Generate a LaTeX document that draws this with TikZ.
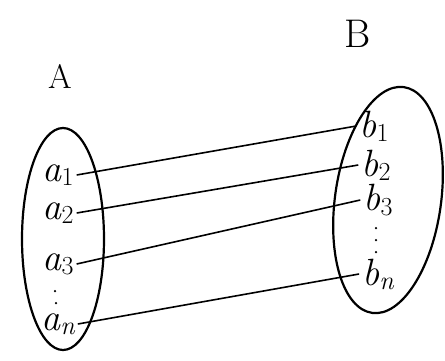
\documentclass[tikz,border=0pt]{standalone}
\newcommand{\mysub}[1]{\raisebox{-0.25ex}{\fontsize{26}{30}\selectfont #1}}
\begin{document}
\begin{tikzpicture}[x=1pt,y=-1pt,
  setline/.style={line width=2.2pt},
  conn/.style={line width=1.6pt},
  elt/.style={inner sep=0pt,font=\fontsize{38}{44}\selectfont\itshape},
  ttl/.style={font=\fontsize{34}{40}\selectfont},
  dotm/.style={fill=black,circle,inner sep=0pt,minimum size=2.5pt}]
\useasboundingbox (0,0) rectangle (445,360);
\draw[setline] (63,239) ellipse [x radius=41, y radius=111];
\draw[setline,rotate around={-8:(388,200)}] (388,200) ellipse [x radius=53, y radius=114];
\node[ttl] (A) at (60,76) {A};
\node[ttl,font=\fontsize{40}{46}\selectfont] (B) at (358,34) {B};
\node[elt] (a1) at (58,175) {a\mysub{\upshape 1}};
\node[elt] (a2) at (58,213) {a\mysub{\upshape 2}};
\node[elt] (a3) at (58,264) {a\mysub{\upshape 3}};
\node[elt] (an) at (58,324) {a\mysub{n}};
\node[elt] (b1) at (374,126) {b\mysub{\upshape 1}};
\node[elt] (b2) at (376,165) {b\mysub{\upshape 2}};
\node[elt] (b3) at (378,200) {b\mysub{\upshape 3}};
\node[elt] (bn) at (378,274) {b\mysub{n}};
\node[dotm] (ad1) at (55,291) {};
\node[dotm] (ad2) at (56,303) {};
\node[dotm] (bd1) at (376,228) {};
\node[dotm] (bd2) at (376,240) {};
\node[dotm] (bd3) at (376,252) {};
\draw[conn] ([xshift=3pt]a1.east) -- ([xshift=-3pt]b1.west);
\draw[conn] ([xshift=3pt]a2.east) -- ([xshift=-3pt]b2.west);
\draw[conn] ([xshift=3pt]a3.east) -- ([xshift=-3pt]b3.west);
\draw[conn] ([xshift=3pt]an.east) -- ([xshift=-3pt]bn.west);
\end{tikzpicture}
\end{document}
